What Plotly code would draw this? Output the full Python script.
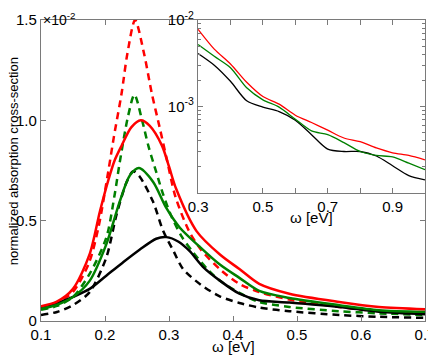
import plotly.graph_objects as go

# main panel (values in units of 1e-2)
red_solid_w = [0.10, 0.124, 0.15, 0.176, 0.192, 0.205, 0.215, 0.226, 0.241, 0.256, 0.27, 0.289, 0.30, 0.311, 0.343, 0.38, 0.41, 0.441, 0.488, 0.566, 0.628, 0.70]
red_solid_v = [0.074, 0.095, 0.16, 0.333, 0.546, 0.70, 0.80, 0.874, 0.965, 1.0, 0.972, 0.874, 0.77, 0.66, 0.448, 0.33, 0.259, 0.185, 0.136, 0.095, 0.070, 0.059]

red_dash_w = [0.10, 0.125, 0.15, 0.175, 0.19, 0.205, 0.214, 0.226, 0.235, 0.247, 0.261, 0.273, 0.285, 0.297, 0.31, 0.331, 0.35, 0.382, 0.41, 0.441, 0.488, 0.566, 0.628, 0.70]
red_dash_v = [0.067, 0.09, 0.145, 0.29, 0.47, 0.743, 0.92, 1.136, 1.333, 1.50, 1.333, 1.136, 0.97, 0.80, 0.62, 0.45, 0.355, 0.251, 0.185, 0.144, 0.107, 0.070, 0.049, 0.041]

green_solid_w = [0.10, 0.124, 0.15, 0.176, 0.202, 0.223, 0.239, 0.253, 0.275, 0.296, 0.317, 0.348, 0.38, 0.41, 0.441, 0.488, 0.566, 0.628, 0.70]
green_solid_v = [0.061, 0.08, 0.12, 0.2, 0.382, 0.595, 0.726, 0.762, 0.694, 0.562, 0.465, 0.37, 0.28, 0.215, 0.15, 0.115, 0.079, 0.054, 0.046]

green_dash_w = [0.10, 0.125, 0.15, 0.176, 0.202, 0.215, 0.223, 0.236, 0.246, 0.258, 0.268, 0.28, 0.291, 0.304, 0.32, 0.337, 0.361, 0.38, 0.41, 0.441, 0.488, 0.566, 0.628, 0.70]
green_dash_v = [0.056, 0.075, 0.12, 0.235, 0.415, 0.628, 0.79, 1.02, 1.128, 1.0, 0.87, 0.743, 0.63, 0.52, 0.42, 0.345, 0.255, 0.2, 0.14, 0.095, 0.07, 0.049, 0.038, 0.030]

black_solid_w = [0.10, 0.124, 0.15, 0.176, 0.202, 0.228, 0.254, 0.28, 0.296, 0.315, 0.332, 0.353, 0.38, 0.41, 0.441, 0.488, 0.566, 0.628, 0.70]
black_solid_v = [0.065, 0.087, 0.12, 0.16, 0.226, 0.292, 0.355, 0.41, 0.418, 0.395, 0.349, 0.27, 0.2, 0.136, 0.103, 0.092, 0.070, 0.046, 0.034]

black_dash_w = [0.10, 0.125, 0.15, 0.176, 0.202, 0.218, 0.234, 0.244, 0.254, 0.275, 0.291, 0.307, 0.322, 0.35, 0.38, 0.41, 0.441, 0.488, 0.566, 0.628, 0.70]
black_dash_v = [0.03, 0.045, 0.079, 0.144, 0.316, 0.53, 0.694, 0.746, 0.72, 0.595, 0.448, 0.349, 0.259, 0.18, 0.122, 0.09, 0.067, 0.049, 0.030, 0.021, 0.016]

# inset (log scale, absolute values)
inset_w = [0.30, 0.35, 0.40, 0.45, 0.50, 0.55, 0.60, 0.65, 0.70, 0.75, 0.80, 0.85, 0.90, 0.95, 1.00]
inset_red = [7.8e-3, 4.6e-3, 3.1e-3, 1.9e-3, 1.30e-3, 1.06e-3, 7.9e-4, 6.5e-4, 5.3e-4, 4.3e-4, 3.9e-4, 3.3e-4, 2.9e-4, 2.7e-4, 2.4e-4]
inset_green = [5.2e-3, 3.8e-3, 2.8e-3, 1.64e-3, 1.19e-3, 9.8e-4, 7.1e-4, 5.2e-4, 4.7e-4, 3.8e-4, 3.0e-4, 2.7e-4, 2.6e-4, 2.2e-4, 1.85e-4]
inset_black = [4.1e-3, 3.0e-3, 1.95e-3, 1.16e-3, 9.8e-4, 8.7e-4, 6.9e-4, 4.7e-4, 3.2e-4, 3.0e-4, 3.0e-4, 2.66e-4, 2.05e-4, 1.58e-4, 1.41e-4]

RED = "#ff0000"
GREEN = "#008000"
BLACK = "#000000"
AXC = "#7a7a7a"
FONT = "Liberation Sans, Arial, sans-serif"

fig = go.Figure()

main = [
    (black_dash_w, black_dash_v, BLACK, "7px,5px"),
    (green_dash_w, green_dash_v, GREEN, "7px,5px"),
    (red_dash_w, red_dash_v, RED, "7px,5px"),
    (black_solid_w, black_solid_v, BLACK, "solid"),
    (green_solid_w, green_solid_v, GREEN, "solid"),
    (red_solid_w, red_solid_v, RED, "solid"),
]
for w, v, c, d in main:
    fig.add_trace(go.Scatter(x=w, y=v, mode="lines",
                             line=dict(color=c, width=2.5, dash=d, shape="spline", smoothing=0.8),
                             xaxis="x", yaxis="y", showlegend=False))

for vals, c in [(inset_black, BLACK), (inset_green, GREEN), (inset_red, RED)]:
    fig.add_trace(go.Scatter(x=inset_w, y=vals, mode="lines",
                             line=dict(color=c, width=1.3, shape="spline", smoothing=0.8),
                             xaxis="x2", yaxis="y2", showlegend=False))

axis_common = dict(showline=True, linecolor=AXC, linewidth=1.3, mirror="ticks",
                   ticks="inside", tickcolor=AXC, ticklen=5, tickwidth=1,
                   showgrid=False, zeroline=False, automargin=False)

minor_vals = [k * 1e-4 for k in range(2, 10)] + [k * 1e-3 for k in range(2, 10)]

# page body adds an 8px offset, so the figure is a bit smaller than the window
fig.update_layout(
    width=428, height=348,
    margin=dict(l=33, r=11, t=12, b=35),
    paper_bgcolor="white", plot_bgcolor="white",
    font=dict(family=FONT, size=15, color="black"),
    xaxis=dict(domain=[0, 1], range=[0.1, 0.7], anchor="y",
               tickvals=[0.1, 0.2, 0.3, 0.4, 0.5, 0.6, 0.7],
               ticktext=["0.1", "0.2", "0.3", "0.4", "0.5", "0.6", "0.7"], **axis_common),
    yaxis=dict(domain=[0, 1], range=[0, 1.5], anchor="x",
               tickvals=[0, 0.5, 1.0, 1.5], ticktext=["0", "0.5", "1.0", "1.5"], **axis_common),
    xaxis2=dict(domain=[0.409, 1], range=[0.3, 1.0], anchor="y2",
                tickvals=[0.3, 0.4, 0.5, 0.6, 0.7, 0.8, 0.9, 1.0],
                ticktext=["0.3", " ", "0.5", " ", "0.7", " ", "0.9", " "], **axis_common),
    yaxis2=dict(domain=[0.4262, 1], type="log", range=[-4, -2], anchor="x2",
                tickvals=[1e-4, 1e-3, 1e-2],
                ticktext=[" ", "10<sup>-3</sup>", "10<sup>-2</sup>"],
                minor=dict(tickvals=minor_vals, ticks="inside", ticklen=3, tickcolor=AXC),
                **axis_common),
)

fig.add_annotation(text="×10<sup>-2</sup>", xref="paper", yref="paper", x=0, y=1,
                   xanchor="left", yanchor="top", showarrow=False, yshift=12,
                   font=dict(size=14))
fig.add_annotation(text="normalized absorption cross-section", xref="paper", yref="paper",
                   x=-0.0695, y=0.532, textangle=-90, showarrow=False,
                   xanchor="center", yanchor="middle", font=dict(size=13))
fig.add_annotation(text="ω [eV]", xref="paper", yref="paper", x=0.5, y=-0.086,
                   xanchor="center", yanchor="middle", showarrow=False, font=dict(size=15))
fig.add_annotation(text="ω [eV]", xref="paper", yref="paper", x=0.7045, y=0.3455,
                   xanchor="center", yanchor="middle", showarrow=False, font=dict(size=15))

fig.write_html("out.html")
